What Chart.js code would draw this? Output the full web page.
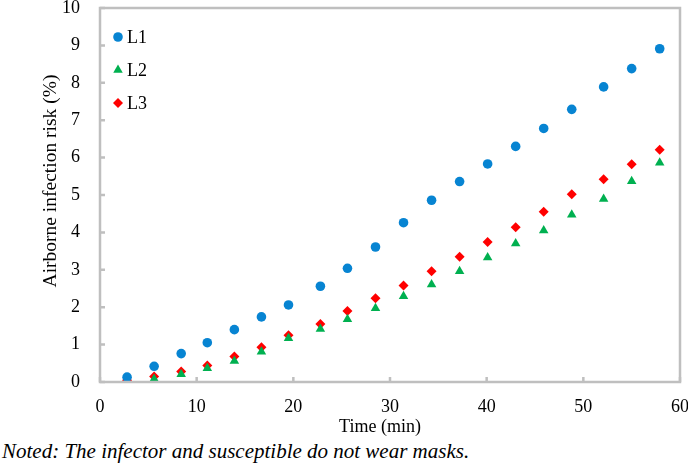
<!DOCTYPE html>
<html lang="en">
<head>
    <meta charset="UTF-8">
    <title>Airborne infection risk</title>
    <script src="https://cdn.jsdelivr.net/npm/chart.js@4.4.0/dist/chart.umd.min.js"></script>
    <style>
        body { margin: 0; background: #fff; }
        .wrap { position: relative; width: 688px; height: 465px; }
        .chart-box { position: absolute; left: 0; top: 0; width: 688px; height: 438px; }
        .note {
            position: absolute; left: 2px; top: 439px;
            font-family: "Liberation Serif", "Times New Roman", serif;
            font-style: italic; font-size: 21px; color: #000; white-space: nowrap;
        }
    </style>
</head>
<body>
<div class="wrap">
    <div class="chart-box"><canvas id="chart"></canvas></div>
    <div class="note">Noted: The infector and susceptible do not wear masks.</div>
</div>
<script>
    // time points (min)
    const times = [2.8, 5.6, 8.4, 11.1, 13.9, 16.7, 19.5, 22.8, 25.6, 28.5,
                   31.4, 34.3, 37.2, 40.1, 43.0, 45.9, 48.8, 52.1, 55.0, 57.9];
    // infection risk (%)
    const riskL1 = [0.13, 0.42, 0.76, 1.05, 1.40, 1.74, 2.06, 2.56, 3.04, 3.61,
                    4.26, 4.86, 5.36, 5.83, 6.30, 6.78, 7.29, 7.89, 8.38, 8.91];
    const riskL2 = [0.00, 0.08, 0.21, 0.37, 0.56, 0.81, 1.17, 1.42, 1.68, 1.97,
                    2.29, 2.61, 2.96, 3.33, 3.70, 4.05, 4.47, 4.89, 5.37, 5.86];
    const riskL3 = [0.05, 0.15, 0.28, 0.44, 0.68, 0.93, 1.25, 1.55, 1.90, 2.24,
                    2.58, 2.96, 3.35, 3.74, 4.14, 4.55, 5.02, 5.42, 5.82, 6.21];
    const seriesNames = ['L1', 'L2', 'L3'];
    const xTitle = 'Time (min)';
    const yTitle = 'Airborne infection risk (%)';

    const serif = "'Liberation Serif', 'Times New Roman', serif";
    const frameColor = '#bfbfbf';

    function toPoints(ys) {
        return times.map((t, i) => ({ x: t, y: ys[i] }));
    }

    // no extra room for edge labels, keep the plot box fixed
    function noPad(scale) {
        scale.paddingTop = 0;
        scale.paddingBottom = 0;
        scale.paddingLeft = 0;
        scale.paddingRight = 0;
    }

    // frame, inward ticks, axis titles and legend inside the plot
    const framePlugin = {
        id: 'frame',
        afterDraw(chart) {
            const ctx = chart.ctx;
            const a = chart.chartArea;
            const xs = chart.scales.x, ys = chart.scales.y;
            ctx.save();
            ctx.strokeStyle = frameColor;
            ctx.lineWidth = 2.5;
            ctx.strokeRect(a.left, a.top, a.right - a.left, a.bottom - a.top);
            ctx.beginPath();
            xs.ticks.forEach((t, i) => {
                const px = xs.getPixelForTick(i);
                ctx.moveTo(px, a.bottom);
                ctx.lineTo(px, a.bottom - 5);
            });
            ys.ticks.forEach((t, i) => {
                const py = ys.getPixelForTick(i);
                ctx.moveTo(a.left, py);
                ctx.lineTo(a.left + 5, py);
            });
            ctx.stroke();

            ctx.fillStyle = '#000';
            ctx.textAlign = 'center';

            // x axis title, a bit left of the middle like the original
            ctx.font = '18px ' + serif;
            ctx.textBaseline = 'alphabetic';
            ctx.fillText(xTitle, (a.left + a.right) / 2 - 10, 432);

            // y axis title, sits a little above the axis middle
            ctx.save();
            ctx.translate(a.left - 49, (a.top + a.bottom) / 2 - 14);
            ctx.rotate(-Math.PI / 2);
            ctx.font = '19.5px ' + serif;
            ctx.textBaseline = 'middle';
            ctx.fillText(yTitle, 0, 0);
            ctx.restore();

            // legend
            chart.data.datasets.forEach((ds, i) => {
                const lx = a.left + 18, ly = a.top + 29 + i * 33;
                ctx.fillStyle = ds.backgroundColor;
                ctx.strokeStyle = ds.borderColor;
                Chart.helpers.drawPoint(ctx, {
                    pointStyle: ds.pointStyle, radius: ds.pointRadius,
                    rotation: 0, borderWidth: 0
                }, lx, ly);
                ctx.fillStyle = '#000';
                ctx.font = '18px ' + serif;
                ctx.textAlign = 'left';
                ctx.textBaseline = 'middle';
                ctx.fillText(ds.label, lx + 9, ly + 1);
            });
            ctx.restore();
        }
    };

    new Chart(document.getElementById('chart'), {
        type: 'scatter',
        data: {
            datasets: [
                { label: seriesNames[0], data: toPoints(riskL1), pointStyle: 'circle', pointRadius: 4.8,
                  backgroundColor: '#0784d2', borderColor: '#0784d2', borderWidth: 0 },
                { label: seriesNames[1], data: toPoints(riskL2), pointStyle: 'triangle', pointRadius: 5.5,
                  backgroundColor: '#00b050', borderColor: '#00b050', borderWidth: 0 },
                { label: seriesNames[2], data: toPoints(riskL3), pointStyle: 'rectRot', pointRadius: 5,
                  backgroundColor: '#ff0000', borderColor: '#ff0000', borderWidth: 0 }
            ]
        },
        options: {
            responsive: true,
            maintainAspectRatio: false,
            animation: false,
            layout: { padding: { top: 8, right: 8, left: 0, bottom: 0 } },
            plugins: {
                legend: { display: false },
                tooltip: { enabled: false }
            },
            scales: {
                x: {
                    type: 'linear', min: 0, max: 60,
                    ticks: { stepSize: 10, padding: 14, color: '#000', font: { family: serif, size: 18 } },
                    grid: { display: false, drawTicks: false },
                    border: { display: false },
                    afterFit(scale) { scale.height = 56; noPad(scale); }
                },
                y: {
                    type: 'linear', min: 0, max: 10,
                    ticks: { stepSize: 1, padding: 20, color: '#000', font: { family: serif, size: 18 } },
                    grid: { display: false, drawTicks: false },
                    border: { display: false },
                    afterFit(scale) { scale.width = 100; noPad(scale); }
                }
            }
        },
        plugins: [framePlugin]
    });
</script>
</body>
</html>
